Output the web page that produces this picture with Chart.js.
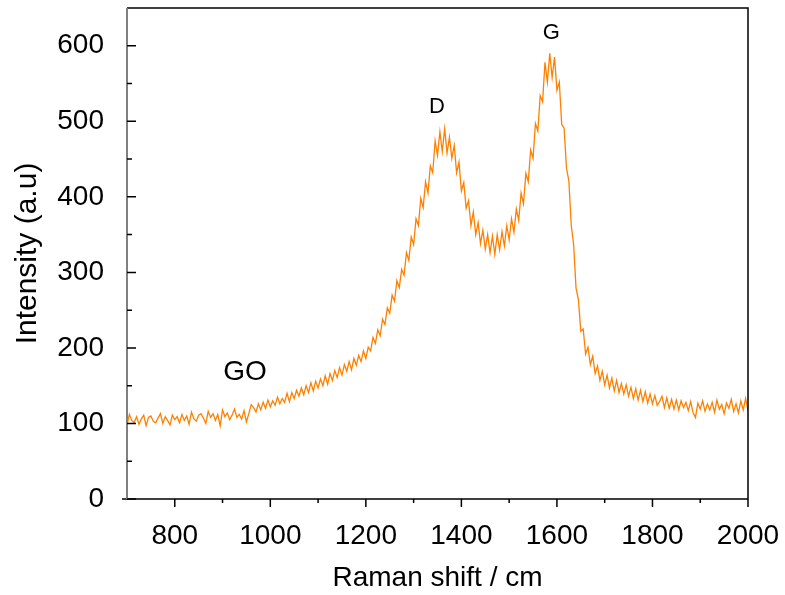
<!DOCTYPE html>
<html>
<head>
<meta charset="utf-8">
<script src="https://cdn.jsdelivr.net/npm/chart.js@4/dist/chart.umd.min.js"></script>
<style>
  html, body { margin: 0; padding: 0; background: #fff; }
  #wrap { width: 785px; height: 595px; }
</style>
</head>
<body>
<div id="wrap"><canvas id="chart" width="785" height="595"></canvas></div>
<script>
// Raman spectrum of GO, sampled every 5 cm-1 from 700 to 2000
const shiftStart = 700;
const shiftStep = 5;
const intensity = [
  98, 112, 104, 101, 109, 99, 106, 111, 97, 108, 110, 103, 101, 107, 113, 100, 109, 104, 98, 111,
  105, 109, 101, 112, 104, 110, 99, 115, 106, 103, 111, 113, 107, 100, 116, 108, 113, 104, 112, 97,
  118, 109, 114, 105, 111, 119, 108, 112, 106, 117, 102, 113, 125, 121, 115, 126, 118, 128, 120, 131,
  122, 130, 124, 135, 126, 133, 128, 140, 129, 141, 133, 144, 136, 147, 138, 150, 141, 154, 143, 156,
  147, 159, 150, 163, 152, 166, 157, 170, 161, 174, 164, 178, 169, 182, 171, 186, 177, 190, 182, 196,
  186, 201, 196, 214, 206, 224, 216, 238, 231, 253, 246, 270, 262, 289, 280, 304, 296, 326, 316, 347,
  337, 371, 362, 398, 386, 420, 405, 441, 432, 474, 455, 486, 460, 490, 458, 479, 451, 468, 432, 446,
  408, 419, 385, 395, 362, 380, 350, 366, 338, 356, 331, 350, 326, 348, 324, 350, 330, 354, 335, 362,
  343, 371, 353, 384, 369, 405, 391, 431, 420, 462, 451, 497, 487, 534, 526, 578, 552, 590, 558, 585,
  541, 552, 496, 491, 438, 421, 362, 337, 279, 264, 222, 225, 192, 201, 178, 189, 166, 176, 157, 169,
  151, 164, 147, 160, 143, 157, 141, 153, 139, 151, 136, 148, 133, 146, 131, 144, 129, 142, 127, 139,
  126, 137, 124, 129, 136, 121, 134, 120, 132, 119, 131, 118, 130, 121, 128, 117, 129, 114, 108, 127,
  119, 130, 116, 126, 118, 128, 115, 131, 119, 125, 113, 127, 120, 132, 116, 126, 114, 130, 118, 133,
  117
];

const xTicks = [800, 1000, 1200, 1400, 1600, 1800, 2000];
const xMinorTicks = [900, 1100, 1300, 1500, 1700, 1900];
const yTicks = [0, 100, 200, 300, 400, 500, 600];
const yMinorTicks = [50, 150, 250, 350, 450, 550];

// peak annotations (text, shift, intensity)
const noteText = ["D", "G", "GO"];
const noteShift = [1349, 1588, 947];
const noteIntensity = [519, 617, 168];
const noteSize = [22, 22, 28];

const points = intensity.map((v, i) => ({ x: shiftStart + i * shiftStep, y: v }));

const FONT = "'Liberation Sans', Arial, sans-serif";

const framePlugin = {
  id: "frame",
  afterDraw(chart) {
    const ctx = chart.ctx;
    const xs = chart.scales.x;
    const ys = chart.scales.y;
    const { left, right, top, bottom } = chart.chartArea;
    ctx.save();

    // axes box
    ctx.lineCap = "butt";
    ctx.strokeStyle = "#000";
    ctx.lineWidth = 1.5;
    ctx.beginPath();
    ctx.moveTo(left, top);
    ctx.lineTo(right, top);
    ctx.lineTo(right, bottom);
    ctx.moveTo(left - 5, bottom);
    ctx.lineTo(right, bottom);
    ctx.stroke();
    ctx.strokeStyle = "#808080";
    ctx.lineWidth = 2;
    ctx.beginPath();
    ctx.moveTo(left, top);
    ctx.lineTo(left, bottom);
    ctx.stroke();

    // ticks: x outward, y inward
    ctx.strokeStyle = "#000";
    ctx.lineWidth = 1.5;
    ctx.beginPath();
    xTicks.forEach(v => {
      const px = xs.getPixelForValue(v);
      ctx.moveTo(px, bottom);
      ctx.lineTo(px, bottom + 8);
    });
    xMinorTicks.forEach(v => {
      const px = xs.getPixelForValue(v);
      ctx.moveTo(px, bottom);
      ctx.lineTo(px, bottom + 4);
    });
    yTicks.forEach(v => {
      const py = ys.getPixelForValue(v);
      ctx.moveTo(left, py);
      ctx.lineTo(left + 9, py);
    });
    yMinorTicks.forEach(v => {
      const py = ys.getPixelForValue(v);
      ctx.moveTo(left, py);
      ctx.lineTo(left + 5, py);
    });
    ctx.stroke();

    // labels
    ctx.fillStyle = "#000";
    ctx.textAlign = "center";
    ctx.textBaseline = "middle";
    noteText.forEach((t, i) => {
      ctx.font = noteSize[i] + "px " + FONT;
      ctx.fillText(t, xs.getPixelForValue(noteShift[i]), ys.getPixelForValue(noteIntensity[i]));
    });
    ctx.restore();
  }
};

new Chart(document.getElementById("chart"), {
  type: "line",
  data: {
    datasets: [{
      label: "GO",
      data: points,
      borderColor: "rgb(255, 128, 0)",
      borderWidth: 1.3,
      pointRadius: 0,
      tension: 0,
      fill: false
    }]
  },
  options: {
    responsive: false,
    animation: false,
    devicePixelRatio: 1,
    layout: { padding: { top: 8, right: 37, left: 0, bottom: 0 } },
    plugins: {
      legend: { display: false },
      tooltip: { enabled: false }
    },
    scales: {
      x: {
        type: "linear",
        min: 700,
        max: 2000,
        grid: { display: false },
        border: { display: false },
        afterBuildTicks: s => { s.ticks = xTicks.map(v => ({ value: v })); },
        afterFit: s => {
          s.height = 96;
          s.paddingLeft = 0;
          s.paddingRight = 0;
        },
        ticks: {
          color: "#000",
          padding: 12,
          maxRotation: 0,
          callback: v => String(v),
          font: { family: FONT, size: 28 }
        },
        title: {
          display: true,
          text: "Raman shift / cm",
          color: "#000",
          padding: { top: 0, bottom: 0 },
          font: { family: FONT, size: 28 }
        }
      },
      y: {
        min: 0,
        max: 650,
        grid: { display: false },
        border: { display: false },
        afterBuildTicks: s => { s.ticks = yTicks.map(v => ({ value: v })); },
        afterFit: s => {
          s.width = 127;
          s.paddingTop = 0;
          s.paddingBottom = 0;
        },
        ticks: {
          color: "#000",
          padding: 15,
          callback: v => String(v),
          font: { family: FONT, size: 28 }
        },
        title: {
          display: true,
          text: "Intensity (a.u)",
          color: "#000",
          padding: { top: 10, bottom: 0 },
          font: { family: FONT, size: 30 }
        }
      }
    }
  },
  plugins: [framePlugin]
});
</script>
</body>
</html>
